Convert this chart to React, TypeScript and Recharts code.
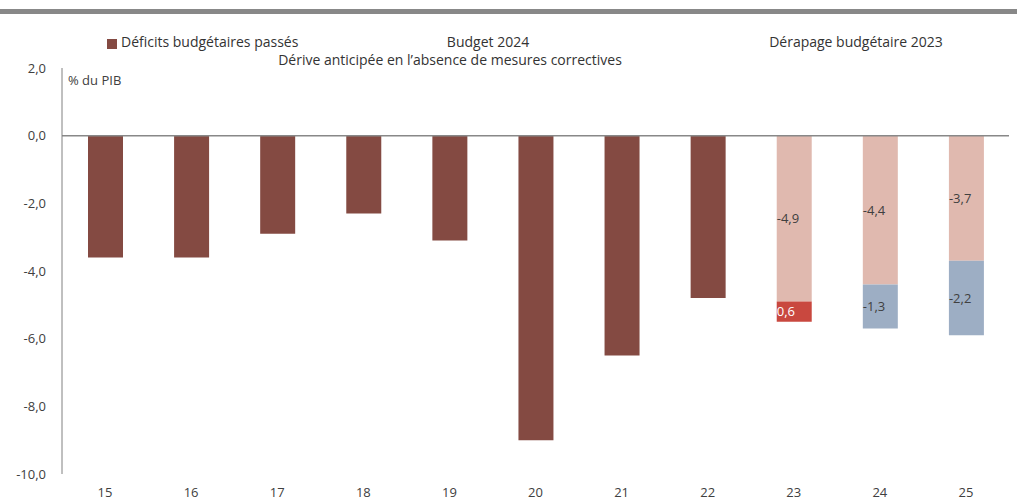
import { BarChart, Bar, XAxis, YAxis, ReferenceLine, LabelList } from 'recharts'

const annees = ['15', '16', '17', '18', '19', '20', '21', '22', '23', '24', '25']
const deficitsPasses = [-3.6, -3.6, -2.9, -2.3, -3.1, -9.0, -6.5, -4.8, null, null, null]
const budget2024 = [null, null, null, null, null, null, null, null, -4.9, -4.4, -3.7]
const derapage2023 = [null, null, null, null, null, null, null, null, -0.6, null, null]
const deriveAnticipee = [null, null, null, null, null, null, null, null, null, -1.3, -2.2]
const ticksY = [2, 0, -2, -4, -6, -8, -10]

const data = annees.map((a, i) => ({
  annee: a,
  passes: deficitsPasses[i],
  budget: budget2024[i],
  derapage: derapage2023[i],
  derive: deriveAnticipee[i],
}))

const fmt = (v: number) => v.toFixed(1).replace('.', ',')
const legendFont = '"Liberation Sans Narrow", "Open Sans", sans-serif'
const sansFont = '"Open Sans", sans-serif'

// legende faite a la main, posee par-dessus le graphique
function Legende() {
  const txt = {
    position: 'absolute' as const,
    fontSize: 14,
    lineHeight: '14px',
    color: '#333',
    whiteSpace: 'nowrap' as const,
  }
  return (
    <div style={{ position: 'absolute', left: 0, top: 0, width: 1017, height: 67, fontFamily: legendFont }}>
      <div style={{ position: 'absolute', left: 107, top: 39, width: 10, height: 10, background: '#844A42' }} />
      <div style={{ ...txt, left: 121, top: 35 }}>Déficits budgétaires passés</div>
      <div style={{ ...txt, left: 488, top: 35, transform: 'translateX(-50%)' }}>Budget 2024</div>
      <div style={{ ...txt, left: 856, top: 35, transform: 'translateX(-50%)' }}>Dérapage budgétaire 2023</div>
      <div style={{ ...txt, left: 450, top: 53, transform: 'translateX(-50%)' }}>
        Dérive anticipée en l’absence de mesures correctives
      </div>
      <div style={{ position: 'absolute', left: 68, top: 71, fontSize: 13, color: '#404040', fontFamily: sansFont }}>
        % du PIB
      </div>
    </div>
  )
}

export default function App() {
  const tickStyle = { fontSize: 13, fill: '#404040', fontFamily: sansFont }
  const labelStyle = { fontSize: 13, fontFamily: sansFont }
  return (
    <div style={{ position: 'absolute', left: 0, top: 0, width: 1017, height: 501, background: '#fff' }}>
      <div style={{ position: 'absolute', left: 0, top: 9, width: 1017, height: 5, background: '#888' }} />
      <BarChart
        width={1017}
        height={501}
        data={data}
        margin={{ top: 68, right: 8, bottom: 0, left: 0 }}
        barSize={35}
      >
        <XAxis
          dataKey="annee"
          height={27}
          axisLine={false}
          tickLine={false}
          tickMargin={8}
          tick={tickStyle}
          interval={0}
        />
        <YAxis
          domain={[-10, 2]}
          ticks={ticksY}
          width={62}
          tickLine={false}
          tickMargin={10}
          axisLine={{ stroke: '#808080' }}
          tickFormatter={fmt}
          tick={tickStyle}
        />
        <Bar dataKey="passes" stackId="a" fill="#844A42" isAnimationActive={false} />
        <Bar dataKey="budget" stackId="a" fill="#E0B9AF" isAnimationActive={false}>
          <LabelList dataKey="budget" position="insideLeft" offset={0} formatter={(v: any) => (v == null ? '' : fmt(v))} style={{ ...labelStyle, fill: '#404040' }} />
        </Bar>
        <Bar dataKey="derapage" stackId="a" fill="#C9483F" isAnimationActive={false}>
          <LabelList dataKey="derapage" position="insideLeft" offset={0} formatter={(v: any) => (v == null ? '' : fmt(Math.abs(v)))} style={{ ...labelStyle, fill: '#fff' }} />
        </Bar>
        <Bar dataKey="derive" stackId="a" fill="#9DAEC4" isAnimationActive={false}>
          <LabelList dataKey="derive" position="insideLeft" offset={0} formatter={(v: any) => (v == null ? '' : fmt(v))} style={{ ...labelStyle, fill: '#404040' }} />
        </Bar>
        <ReferenceLine y={0} stroke="#888" strokeWidth={1.5} />
      </BarChart>
      <Legende />
    </div>
  )
}
